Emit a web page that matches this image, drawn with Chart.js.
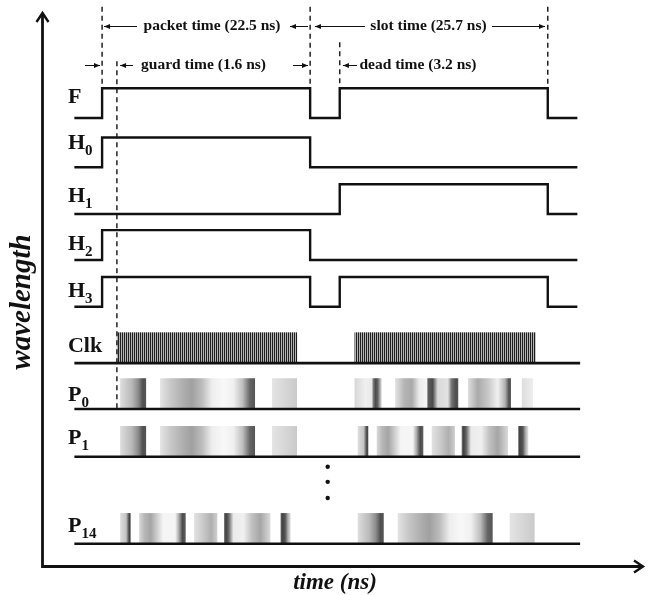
<!DOCTYPE html>
<html>
<head>
<meta charset="utf-8">
<script src="https://cdn.jsdelivr.net/npm/chart.js@4.4.0/dist/chart.umd.min.js"></script>
<style>
  html, body { margin: 0; padding: 0; background: #fff; }
  #wrap { width: 652px; height: 595px; }
</style>
</head>
<body>
<div id="wrap"><canvas id="chart" width="652" height="595"></canvas></div>
<script>
/* Packet / slot timing diagram — drawn on Chart.js linear scales */

// ---------- data (ns) ----------
const PACKET_TIME = 22.5;
const GUARD_TIME = 1.6;
const DEAD_TIME = 3.2;
const SLOT_TIME = 25.7;
const T_START = -3;
const T_END = 51.4;

// step signals: time of each transition and the level (0 low / 1 high) from there on
const F_T  = [T_START, 0, 22.5, 25.7, 48.2, T_END];
const F_V  = [0, 1, 0, 1, 0, 0];
const H0_T = [T_START, 0, 22.5, T_END];
const H0_V = [0, 1, 0, 0];
const H1_T = [T_START, 25.7, 48.2, T_END];
const H1_V = [0, 1, 0, 0];
const H2_T = [T_START, 0, 22.5, T_END];
const H2_V = [0, 1, 0, 0];
const H3_T = [T_START, 0, 22.5, 25.7, 48.2, T_END];
const H3_V = [0, 1, 0, 1, 0, 0];

// clock bursts [start, end]
const CLK_BURSTS = [[1.6, 21.1], [27.3, 46.9]];
const BURST_START = [1.6, 27.3];

// payload shading: segments of [offset from burst start (ns), grey 0-255]
const PATTERN_A = [
  [[0.35, 222], [1.6, 185], [2.3, 140], [2.8, 80], [3.16, 85]],
  [[4.67, 228], [5.8, 200], [6.95, 178], [8.1, 160], [9.2, 188], [10.3, 238], [11.5, 248],
   [12.6, 240], [13.6, 190], [14.4, 100], [14.94, 85]],
  [[16.78, 228], [18.1, 215], [19.48, 202]],
];
const PATTERN_B = [
  [[0, 215], [1.2, 240], [1.85, 232], [2.05, 120], [2.25, 75], [2.5, 95], [2.95, 228]],
  [[4.38, 228], [5.4, 180], [6.2, 170], [7.0, 235], [7.8, 245], [7.95, 95], [8.45, 75],
   [9.0, 218], [10.1, 226], [10.5, 115], [11.0, 75], [11.22, 95]],
  [[12.27, 222], [13.35, 170], [14.43, 200], [15.5, 240], [16.3, 175], [16.7, 80], [16.92, 90]],
  [[18.1, 222], [19.3, 238]],
];
const PATTERN_C = [
  [[0.35, 222], [1.0, 195], [1.2, 115], [1.35, 65], [1.49, 90]],
  [[2.4, 218], [3.0, 182], [3.65, 165], [4.5, 215], [5.0, 245], [6.3, 245], [6.7, 172],
   [7.1, 75], [7.44, 95]],
  [[8.35, 226], [9.3, 202], [10.2, 175], [10.86, 208]],
  [[11.59, 115], [11.8, 65], [12.1, 105], [12.6, 235], [13.7, 240], [14.6, 192], [15.5, 165],
   [16.6, 218]],
  [[17.7, 125], [17.85, 65], [18.2, 85], [18.5, 172], [18.8, 228]],
];
const P0_BURSTS  = [PATTERN_A, PATTERN_B];
const P1_BURSTS  = [PATTERN_A, PATTERN_C];
const P14_BURSTS = [PATTERN_C, PATTERN_A];

// row names + subscripts
const ROW_NAMES = ["F", "H", "H", "H", "H", "Clk", "P", "P", "P"];
const ROW_SUBS  = ["", "0", "1", "2", "3", "", "0", "1", "14"];

// ---------- layout (lane units on the y scale) ----------
const ROW_Y = [0, -1.04, -2.03, -3.0, -3.99, -5.18, -6.15, -7.16, -9.0];
const HIGH = 0.63;        // pulse height
const BLOCK_H = 0.65;     // clock / payload block height
const LABEL_T = -3.69;    // where the row names start
const LABEL_RISE = [15, 18, 12, 10, 10, 11, 8, 13, 12]; // px above the row line

// dashed guides [t, yTop, yBottom]
const GUIDES = [
  [0, 2.35, HIGH],
  [GUARD_TIME, 1.2, ROW_Y[6]],
  [PACKET_TIME, 2.35, HIGH],
  [PACKET_TIME + DEAD_TIME, 1.6, HIGH],
  [PACKET_TIME + SLOT_TIME, 2.35, HIGH],
];
const ANNOT_Y = [1.944, 1.12];
// arrows [from t, to t (head), annotation row]
const ARROWS = [
  [3.77, 0.21, 0], [22.27, 20.32, 0], [28.43, 23.02, 0], [42.17, 47.9, 0],
  [-1.85, -0.23, 1], [3.34, 1.94, 1], [20.65, 22.27, 1], [27.57, 26.05, 1],
];
const NOTES = [
  ["packet time (22.5 ns)", 11.89, 0],
  ["slot time (25.7 ns)", 35.3, 0],
  ["guard time (1.6 ns)", 10.97, 1],
  ["dead time (3.2 ns)", 34.16, 1],
];
const DOTS_T = 24.4;
const DOTS_Y = [-7.37, -7.69, -8.03];

const INK = "#111";
const SERIF = '"Liberation Serif", "Times New Roman", serif';

/* ---------- datasets ---------- */
function stepData(times, levels, base) {
  return times.map((t, i) => ({ x: t, y: base + levels[i] * HIGH }));
}

const datasets = [];
[[F_T, F_V], [H0_T, H0_V], [H1_T, H1_V], [H2_T, H2_V], [H3_T, H3_V]].forEach(([t, v], i) => {
  datasets.push({ data: stepData(t, v, ROW_Y[i]), stepped: true, borderWidth: 2.4 });
});
// flat base lines under clock and payload rows
[5, 6, 7, 8].forEach((r) => {
  datasets.push({ data: [{ x: T_START, y: ROW_Y[r] }, { x: T_END + 0.3, y: ROW_Y[r] }], borderWidth: 2.6 });
});
GUIDES.forEach(([t, a, b]) => {
  datasets.push({
    data: [{ x: t, y: a }, { x: t, y: b }],
    borderDash: [5, 4], borderWidth: 1.5, borderColor: "#222", clip: false,
  });
});
datasets.push({
  data: DOTS_Y.map((y) => ({ x: DOTS_T, y })),
  showLine: false, pointRadius: 2.2, pointBackgroundColor: INK, pointBorderWidth: 0,
});

/* ---------- drawing helpers ---------- */
function clockPattern(ctx) {
  const c = document.createElement("canvas");
  c.width = 2; c.height = 1;
  const g = c.getContext("2d");
  g.fillStyle = "#1e1e1e"; g.fillRect(0, 0, 1, 1);
  g.fillStyle = "#b4b4b4"; g.fillRect(1, 0, 1, 1);
  return ctx.createPattern(c, "repeat");
}

function arrowHead(ctx, x, y, dir) {
  ctx.beginPath();
  ctx.moveTo(x, y);
  ctx.lineTo(x - dir * 6, y - 2.6);
  ctx.lineTo(x - dir * 6, y + 2.6);
  ctx.closePath();
  ctx.fill();
}

const diagram = {
  id: "diagram",
  beforeDatasetsDraw(chart) {
    const { ctx, scales: { x, y } } = chart;
    ctx.save();
    // clock bursts
    const yb = y.getPixelForValue(ROW_Y[5]);
    const yt = y.getPixelForValue(ROW_Y[5] + BLOCK_H);
    ctx.fillStyle = clockPattern(ctx);
    CLK_BURSTS.forEach(([a, b]) => {
      const x0 = x.getPixelForValue(a), x1 = x.getPixelForValue(b);
      ctx.fillRect(x0, yt, x1 - x0, yb - yt);
    });
    // payload rows
    [[6, P0_BURSTS], [7, P1_BURSTS], [8, P14_BURSTS]].forEach(([r, bursts]) => {
      const b0 = y.getPixelForValue(ROW_Y[r]);
      const t0 = y.getPixelForValue(ROW_Y[r] + BLOCK_H);
      bursts.forEach((pattern, k) => {
        const start = BURST_START[k];
        pattern.forEach((seg) => {
          const a = x.getPixelForValue(start + seg[0][0]);
          const b = x.getPixelForValue(start + seg[seg.length - 1][0]);
          const g = ctx.createLinearGradient(a, 0, b, 0);
          seg.forEach(([t, s]) => {
            const p = (x.getPixelForValue(start + t) - a) / (b - a);
            g.addColorStop(Math.min(1, Math.max(0, p)), `rgb(${s},${s},${s})`);
          });
          ctx.fillStyle = g;
          ctx.fillRect(a, t0, b - a, b0 - t0);
        });
      });
    });
    ctx.restore();
  },
  afterDatasetsDraw(chart) {
    const { ctx, chartArea: area, scales: { x, y } } = chart;
    ctx.save();
    ctx.strokeStyle = INK; ctx.fillStyle = INK;

    // axes with arrow tips
    const ax = area.left + 0.5, ay = area.bottom - 0.5;
    ctx.lineWidth = 2.8;
    ctx.beginPath();
    ctx.moveTo(ax, area.top + 1); ctx.lineTo(ax, ay); ctx.lineTo(area.right, ay);
    ctx.stroke();
    ctx.lineWidth = 2.4;
    ctx.beginPath();
    ctx.moveTo(ax - 6, area.top + 9); ctx.lineTo(ax, area.top); ctx.lineTo(ax + 6, area.top + 9);
    ctx.moveTo(area.right - 9, ay - 6); ctx.lineTo(area.right, ay); ctx.lineTo(area.right - 9, ay + 6);
    ctx.stroke();

    // annotation arrows + notes
    ctx.lineWidth = 1;
    ARROWS.forEach(([a, b, row]) => {
      const yy = Math.round(y.getPixelForValue(ANNOT_Y[row])) + 0.5;
      const xa = x.getPixelForValue(a), xb = x.getPixelForValue(b);
      ctx.beginPath(); ctx.moveTo(xa, yy); ctx.lineTo(xb, yy); ctx.stroke();
      arrowHead(ctx, xb, yy, xb > xa ? 1 : -1);
    });
    ctx.font = `bold 15.5px ${SERIF}`;
    ctx.textAlign = "center"; ctx.textBaseline = "middle";
    NOTES.forEach(([txt, t, row]) => {
      ctx.fillText(txt, x.getPixelForValue(t), y.getPixelForValue(ANNOT_Y[row]));
    });

    // row names
    ctx.textAlign = "left"; ctx.textBaseline = "alphabetic";
    ROW_NAMES.forEach((name, i) => {
      const lx = x.getPixelForValue(LABEL_T);
      const ly = y.getPixelForValue(ROW_Y[i]) - LABEL_RISE[i];
      ctx.font = `bold 22px ${SERIF}`;
      ctx.fillText(name, lx, ly);
      if (ROW_SUBS[i]) {
        const w = ctx.measureText(name).width;
        ctx.font = `bold 15px ${SERIF}`;
        ctx.fillText(ROW_SUBS[i], lx + w, ly + 6);
      }
    });

    // axis titles
    ctx.font = `italic bold 23px ${SERIF}`;
    ctx.textAlign = "center";
    ctx.fillText("time (ns)", 335, 589);
    ctx.font = `italic bold 29px ${SERIF}`;
    ctx.translate(30, 302);
    ctx.rotate(-Math.PI / 2);
    ctx.fillText("wavelength", 0, 0);
    ctx.restore();
  },
};

new Chart(document.getElementById("chart"), {
  type: "line",
  data: { datasets },
  options: {
    responsive: false,
    animation: false,
    devicePixelRatio: 1,
    events: [],
    layout: { padding: { left: 42, right: 9, top: 13, bottom: 28 } },
    elements: {
      point: { radius: 0 },
      line: { borderColor: INK, tension: 0, fill: false, borderJoinStyle: "miter" },
    },
    scales: {
      x: { type: "linear", min: -6.5, max: 58.5, display: false },
      y: { type: "linear", min: -9.49, max: 2.22, display: false },
    },
    plugins: { legend: { display: false }, tooltip: { enabled: false } },
  },
  plugins: [diagram],
});
</script>
</body>
</html>
